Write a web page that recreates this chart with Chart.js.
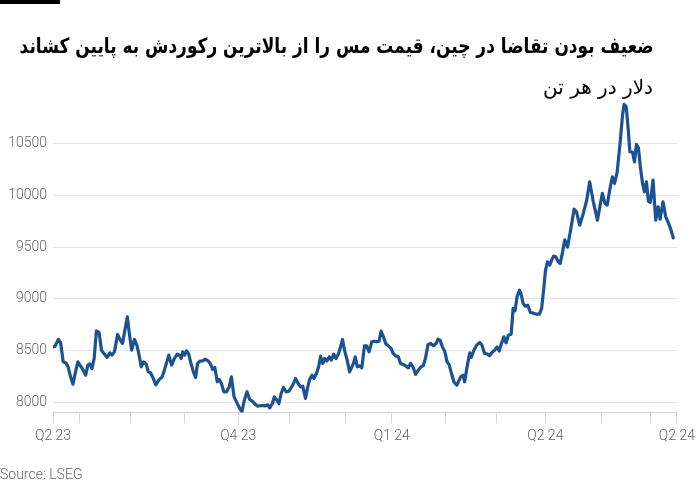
<!DOCTYPE html>
<html>
<head>
<meta charset="utf-8">
<script src="https://cdn.jsdelivr.net/npm/chart.js@4.4.1/dist/chart.umd.min.js"></script>
<style>
  html, body { margin:0; padding:0; background:#fff; }
  #wrap { position:relative; width:700px; height:500px; overflow:hidden; }
  #bar { position:absolute; left:0; top:0; width:60px; height:4px; background:#000; }
  #title { position:absolute; right:46px; top:33px; direction:rtl; font-family:"DejaVu Sans", sans-serif; font-weight:bold; font-size:21px; line-height:26px; color:#000; white-space:nowrap; transform-origin:right center; }
  #subtitle { position:absolute; right:47px; top:74px; direction:rtl; font-family:"DejaVu Sans", sans-serif; font-size:20px; line-height:26px; color:#000; white-space:nowrap; }
  #source { position:absolute; left:0; top:466px; font-family:Roboto, sans-serif; font-weight:300; font-size:14px; color:#666; }
  canvas { position:absolute; left:0; top:0; }
</style>
</head>
<body>
<div id="wrap">
  <canvas id="c" width="700" height="500"></canvas>
  <div id="bar"></div>
  <div id="title">ضعیف بودن تقاضا در چین، قیمت مس را از بالاترین رکوردش به پایین کشاند</div>
  <div id="subtitle">دلار در هر تن</div>
  <div id="source">Source: LSEG</div>
</div>
<script>
// trading-day index (0 = first day shown) and copper price, USD per tonne
const days = [0,0.8,2.2,3.1,4.2,5.3,6.2,7.2,8.2,9.1,10.2,11.3,12.4,13.4,14.3,15.1,16.0,16.9,17.8,18.9,19.9,20.9,22.2,23.3,24.2,25.2,26.5,27.6,28.5,29.5,30.5,31.4,32.3,33.4,34.4,35.2,36.2,37.2,38.3,39.1,
40.0,41.0,42.2,43.4,44.8,45.7,46.7,47.5,48.7,49.8,51.0,51.9,52.6,53.2,54.0,54.8,55.7,56.6,57.6,58.5,59.3,60.3,61.4,62.5,63.6,64.5,65.5,66.4,67.4,68.2,69.1,70.1,71.2,72.3,73.2,74.3,75.3,76.4,77.5,78.5,79.6,80.7,81.8,82.9,84.0,
85.6,87.0,88.1,88.9,90.0,90.8,91.9,92.7,93.6,94.6,95.7,96.8,97.9,98.7,99.5,100.6,101.6,102.5,103.6,104.4,105.3,106.3,107.1,108.1,109.0,109.8,110.7,111.5,112.4,113.4,114.2,115.2,116.1,117.2,118.0,118.8,119.6,120.7,121.7,
123.3,124.0,124.9,125.8,126.7,127.8,128.7,129.7,130.8,131.9,132.8,133.8,134.6,135.6,136.5,137.6,138.7,139.6,140.6,141.7,142.6,143.7,144.7,145.8,146.7,147.7,148.8,149.9,151.0,151.9,152.8,153.9,155.0,156.1,157.2,158.0,158.8,159.8,160.8,161.7,162.5,163.5,164.6,165.7,
167.3,168.2,168.9,169.9,171.0,171.6,172.7,173.8,175.1,176.0,177.1,178.2,179.1,180.1,181.2,182.2,183.1,183.9,185.0,185.9,186.9,188.0,188.8,189.6,190.4,191.4,192.0,192.9,193.8,194.8,195.9,196.9,198.2,199.6,200.5,201.3,202.1,202.9,203.8,204.6,205.4,206.3,207.3,208.1,
209.1,210.0,211.1,212.5,213.8,214.8,216.1,217.6,219.0,220.2,221.7,223.4,224.5,225.4,226.5,227.4,228.8,229.5,230.4,231.5,232.6,233.7,234.3,235.2,236.0,236.7,237.8,238.6,239.4,240.2,241.0,241.9,242.7,243.5,244.3,245.1,246.2,247.3,248.3,249.1,250.3,251.4,252.6,253.6,254.5];
const prices = [8535,8542,8607,8578,8390,8380,8342,8245,8174,8278,8390,8351,8310,8261,8358,8371,8326,8423,8690,8675,8503,8471,8433,8477,8455,8487,8655,8603,8568,8697,8826,8649,8503,8607,8552,8471,8342,8390,8365,8293,
8284,8237,8167,8213,8245,8310,8390,8455,8358,8423,8465,8455,8423,8487,8455,8497,8465,8375,8293,8239,8375,8397,8400,8416,8400,8375,8317,8336,8197,8220,8181,8100,8100,8148,8245,8051,8003,7949,7906,8019,8100,8026,8010,7981,7961,
7968,7964,7974,7945,7987,8051,8019,7987,8084,8142,8100,8106,8148,8181,8229,8181,8148,8155,8036,8133,8220,8261,8229,8278,8342,8445,8375,8423,8400,8439,8407,8465,8423,8471,8535,8607,8503,8407,8293,
8375,8439,8342,8351,8332,8545,8545,8487,8584,8590,8584,8590,8687,8632,8568,8545,8520,8471,8448,8439,8375,8365,8351,8332,8375,8342,8268,8310,8342,8351,8423,8559,8568,8545,8568,8610,8600,8535,8487,8390,8365,8278,8191,8165,
8245,8261,8197,8342,8477,8433,8503,8552,8578,8552,8471,8465,8448,8481,8503,8535,8494,8561,8632,8574,8649,8658,8907,8884,9019,9084,9052,8955,8929,8939,8868,8864,8852,8852,8907,9084,9278,9358,9326,9375,9413,9407,9358,9343,
9455,9571,9500,9681,9868,9842,9713,9827,9955,10133,9939,9762,9907,10020,9923,9907,10101,10181,10117,10229,10488,10778,10882,10859,10649,10423,10417,10326,10495,10462,10278,10117,10036,10133,9946,9933,10149,9762,9891,9771,9939,9794,9730,9665,9590];

const tickDays = [0,11,32,54,76,97,120,139,161,182,202,225,245,256];
const tickLabels = ['Q2 23','','','','Q4 23','','','Q1 24','','','Q2 24','','','Q2 24'];
const yTicks = [8000,8500,9000,9500,10000,10500];

// fit title to the reference's width
(function(){
  const t = document.getElementById('title');
  const w = t.getBoundingClientRect().width;
  const target = 634;
  if (w > 0) t.style.transform = 'scaleX(' + (target / w) + ')';
})();

const points = days.map((d,i)=>({x:d, y:prices[i]}));

new Chart(document.getElementById('c'), {
  type:'line',
  data:{ datasets:[{ data:points, borderColor:'#1a5293', borderWidth:3.2, pointRadius:0, tension:0, borderJoinStyle:'round', borderCapStyle:'round' }] },
  options:{
    responsive:false, animation:false, devicePixelRatio:1,
    layout:{ padding:{ top:102.5, right:20, left:0, bottom:0 } },
    plugins:{ legend:{display:false}, tooltip:{enabled:false}, title:{display:false} },
    scales:{
      x:{
        type:'linear', min:0, max:256,
        afterBuildTicks:(s)=>{ s.ticks = tickDays.map(v=>({value:v})); },
        afterFit:(s)=>{ s.height = 87.5; },
        grid:{ display:true, drawOnChartArea:false, drawTicks:true, tickLength:11, color:'#d4d4d4', lineWidth:1 },
        border:{ display:true, color:'#d4d4d4', width:1 },
        ticks:{ autoSkip:false, maxRotation:0, padding:5, color:'#666', font:{family:'Roboto', size:14, weight:'300'},
          callback:(v)=>{ const i = tickDays.indexOf(v); return i>=0 ? tickLabels[i] : ''; } }
      },
      y:{
        type:'linear', min:7900, max:10900,
        afterBuildTicks:(s)=>{ s.ticks = yTicks.map(v=>({value:v})); },
        afterFit:(s)=>{ s.width = 53; },
        grid:{ color:'#e6e6e6', drawTicks:false, lineWidth:1 },
        border:{ display:false },
        ticks:{ padding:6, color:'#666', font:{family:'Roboto', size:14, weight:'300'}, callback:(v)=>String(v) }
      }
    }
  }
});
</script>
</body>
</html>
